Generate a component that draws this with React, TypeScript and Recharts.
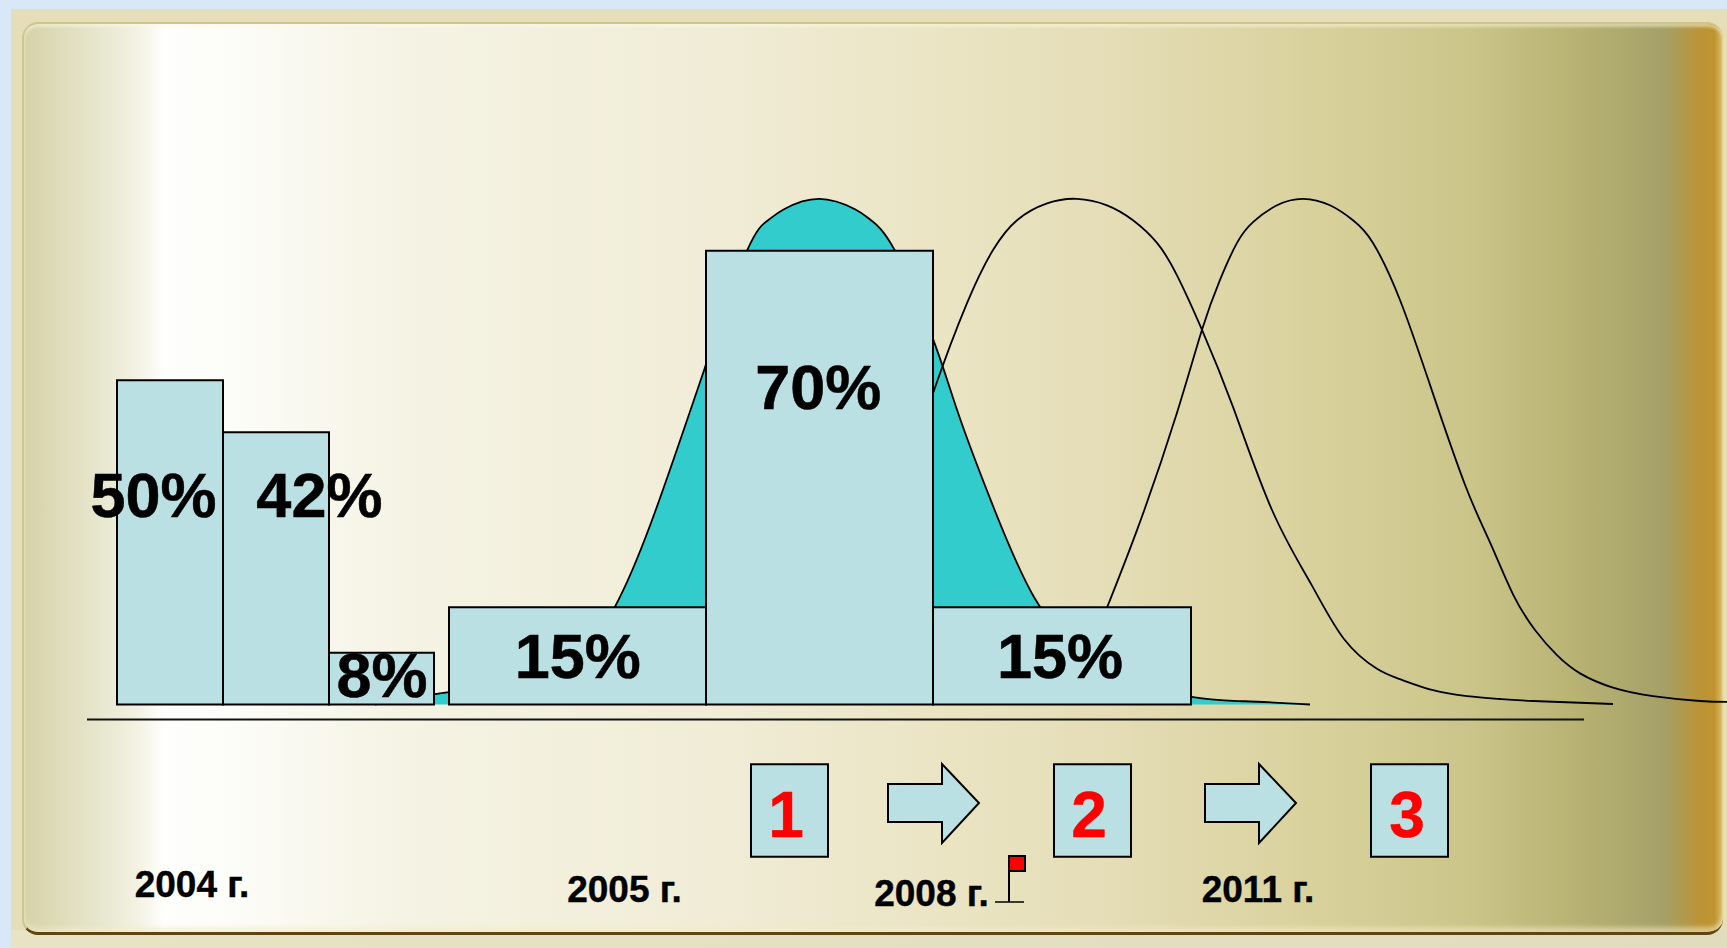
import {
  Area,
  ComposedChart,
  Line,
  ReferenceArea,
  ReferenceDot,
  ReferenceLine,
  XAxis,
  YAxis,
} from "recharts";

type Pair = [number, number];
type Row = { t: number; v: number };

// time position (1 unit = 10 px of chart width) and share in percent
const curveNow: Pair[] = [
  [37.5, 0], [44.9, 1.9], [50, 2.6], [55, 4.6], [58.5, 8], [61.9, 16.3],
  [65.5, 29.7], [70.5, 52], [74.7, 70],
  [76.8, 74.7], [78.4, 76.4], [81.9, 78], [85.5, 76.4], [87.1, 74.7], [89.5, 70],
  [93.3, 56.4], [95.8, 45], [99.1, 31.4], [103.5, 16.3],
  [107.9, 8.4], [112.3, 4.2], [119, 1.2], [124.5, 0.5], [131, 0],
];
const curveNext: Pair[] = [
  [90.5, 34.6], [93.3, 48], [96.7, 61.9], [99.3, 70.1],
  [101.7, 74.7], [104.7, 77.3], [107.7, 78], [110.7, 77], [113.3, 74.7],
  [115.7, 71.2], [117.7, 66.2], [120.2, 57.8], [123.3, 45.9], [127.2, 30],
  [131.1, 18.6], [134.4, 10.1], [137.7, 5.5], [140, 3.9],
  [143.3, 2.2], [146.7, 1.3], [150, 0.85], [153.3, 0.54], [161.3, 0.08],
];
const curveLast: Pair[] = [
  [109, 8.4], [113.7, 26.9], [117.7, 45],
  [120.2, 57.8], [122, 65.5], [123.7, 71.2], [125.3, 74.4], [127.7, 77],
  [130.3, 78], [133, 77], [135.3, 74.7], [137.3, 71.2], [140, 62.4],
  [143, 49.3], [146.5, 33.9], [149, 25], [151.3, 17], [153.5, 11.5],
  [155.7, 7.6], [158, 4.8], [161.3, 2.6], [165.3, 1.3], [170, 0.54],
  [172.7, 0.39],
];

// histogram columns: left/right edges and height in percent
const barFrom = [11.7, 22.3, 32.9, 44.9, 70.6, 93.3];
const barTo = [22.3, 32.9, 43.4, 70.6, 93.3, 119.1];
const barValues = [50, 42, 8, 15, 70, 15];

const labelX = [15.36, 31.94, 38.2, 57.77, 81.83, 106];
const labelY = [32.4, 32.4, 4.6, 7.6, 49.1, 7.6];

const yearTicks = [19.2, 62.45, 93.15, 125.8];
const yearLabels = ["2004 г.", "2005 г.", "2008 г.", "2011 г."];
const yearDrop = [175, 180, 184, 180];

const stages = ["1", "2", "3"];
const stageFrom = [75.1, 105.4, 137.1];
const stageTo = [82.8, 113.1, 144.8];
const stageLabelX = [78.6, 108.9, 140.7];

const FONT = '"Liberation Sans", Arial, sans-serif';
const BAR_FILL = "#BBE0E3";

const toRows = (pairs: Pair[]): Row[] => pairs.map(([t, v]) => ({ t, v }));

function YearTick({ x, y, index }: any) {
  return (
    <text
      x={x}
      y={y + yearDrop[index]}
      textAnchor="middle"
      dominantBaseline="middle"
      fontFamily={FONT}
      fontWeight={700}
      fontSize={37}
      fill="#000"
      stroke="#000"
      strokeWidth={0.4}
    >
      {yearLabels[index]}
    </text>
  );
}

function Backdrop() {
  return (
    <>
      <div style={{ position: "absolute", inset: 0, background: "#d8e8f7" }} />
      <div
        style={{
          position: "absolute",
          left: 11,
          top: 930,
          right: 0,
          bottom: 0,
          background: "linear-gradient(90deg,#e9e3c6,#e0dcbd)",
        }}
      />
      <div
        style={{
          position: "absolute",
          left: 11,
          top: 9,
          right: 0,
          height: 921,
          background: "#e6deb9",
        }}
      />
      <div
        style={{
          position: "absolute",
          left: 22,
          top: 22,
          width: 1701,
          height: 913,
          boxSizing: "border-box",
          borderRadius: 16,
          borderTop: "2px solid #cbc68d",
          borderLeft: "2px solid #cdc892",
          borderBottom: "3px solid #5f4512",
          boxShadow:
            "inset 0 -5px 4px rgba(244,234,196,0.55), inset 0 3px 3px rgba(255,250,228,0.5)",
          background:
            "linear-gradient(90deg,#d6d3a8 0%,#dcdab5 1.6%,#e8e7cf 4.5%,#f3f1e2 6.6%,#fefefc 8.2%,#fcfcf7 13%,#f5f3e4 22%,#f0ecd6 41%,#ebe5c5 53%,#e4ddb6 64%,#d9d19c 76%,#cbc58a 85%,#b9b474 91%,#a5a068 96.5%,#bb9437 98.6%,#c0942f 99.5%,#dcc06c 100%)",
        }}
      />
    </>
  );
}

// process arrows and the milestone flag under the timeline
function Markers() {
  const arrow = (x: number) =>
    `${x},784 ${x + 54},784 ${x + 54},764 ${x + 91},803 ${x + 54},843 ${x + 54},822 ${x},822`;
  return (
    <svg
      width={1727}
      height={948}
      style={{ position: "absolute", left: 0, top: 0 }}
    >
      <polygon points={arrow(888)} fill={BAR_FILL} stroke="#000" strokeWidth={2} />
      <polygon points={arrow(1205)} fill={BAR_FILL} stroke="#000" strokeWidth={2} />
      <line x1={1009} y1={856} x2={1009} y2={902} stroke="#000" strokeWidth={2} />
      <line x1={995} y1={902} x2={1024} y2={902} stroke="#000" strokeWidth={1.5} />
      <rect x={1009} y={856} width={16} height={15} fill="#FF0000" stroke="#000" strokeWidth={2} />
    </svg>
  );
}

export default function App() {
  return (
    <div
      style={{
        position: "absolute",
        left: 0,
        top: 0,
        width: 1727,
        height: 948,
        overflow: "hidden",
      }}
    >
      <Backdrop />
      <div style={{ position: "absolute", left: 0, top: 0 }}>
        <ComposedChart
          width={1727}
          height={948}
          margin={{ top: 56.2, right: 0, bottom: 43.5, left: 0 }}
        >
          <XAxis
            type="number"
            dataKey="t"
            domain={[0, 172.7]}
            ticks={yearTicks}
            interval={0}
            height={200}
            axisLine={false}
            tickLine={false}
            tick={YearTick}
            allowDuplicatedCategory={false}
          />
          <YAxis hide type="number" domain={[0, 100]} width={0} />

          <Area
            data={toRows(curveNow)}
            dataKey="v"
            type="natural"
            stroke="#000"
            strokeWidth={1.8}
            fill="#33CCCC"
            fillOpacity={1}
            dot={false}
            activeDot={false}
            isAnimationActive={false}
          />
          <Line
            data={toRows(curveNext)}
            dataKey="v"
            type="natural"
            stroke="#000"
            strokeWidth={1.8}
            dot={false}
            activeDot={false}
            isAnimationActive={false}
          />
          <Line
            data={toRows(curveLast)}
            dataKey="v"
            type="natural"
            stroke="#000"
            strokeWidth={1.8}
            dot={false}
            activeDot={false}
            isAnimationActive={false}
          />

          {/* columns sit above the curves */}
          {barValues.map((value, i) => (
            <ReferenceArea
              key={i}
              x1={barFrom[i]}
              x2={barTo[i]}
              y1={0}
              y2={value}
              fill={BAR_FILL}
              fillOpacity={1}
              stroke="#000"
              strokeWidth={2}
              ifOverflow="visible"
              zIndex={900}
            />
          ))}

          <ReferenceLine
            segment={[
              { x: 8.7, y: -2.3 },
              { x: 158.4, y: -2.3 },
            ]}
            stroke="#111"
            strokeWidth={2}
            ifOverflow="visible"
          />

          {stages.map((s, i) => (
            <ReferenceArea
              key={s}
              x1={stageFrom[i]}
              x2={stageTo[i]}
              y1={-23.5}
              y2={-9.2}
              fill={BAR_FILL}
              fillOpacity={1}
              stroke="#000"
              strokeWidth={2}
              ifOverflow="visible"
              zIndex={900}
            />
          ))}

          {stages.map((s, i) => (
            <ReferenceDot
              key={s}
              x={stageLabelX[i]}
              y={-17}
              r={0}
              stroke="none"
              ifOverflow="visible"
              zIndex={1000}
              label={{
                value: s,
                position: "center",
                fill: "#FF0000",
                stroke: "#FF0000",
                strokeWidth: 0.5,
                fontFamily: FONT,
                fontWeight: 700,
                fontSize: 64,
              }}
            />
          ))}

          {barValues.map((value, i) => (
            <ReferenceDot
              key={i}
              x={labelX[i]}
              y={labelY[i]}
              r={0}
              stroke="none"
              ifOverflow="visible"
              zIndex={1000}
              label={{
                value: `${value}%`,
                position: "center",
                fill: "#000",
                stroke: "#000",
                strokeWidth: 0.5,
                fontFamily: FONT,
                fontWeight: 700,
                fontSize: 63,
              }}
            />
          ))}
        </ComposedChart>
      </div>
      <Markers />
    </div>
  );
}
